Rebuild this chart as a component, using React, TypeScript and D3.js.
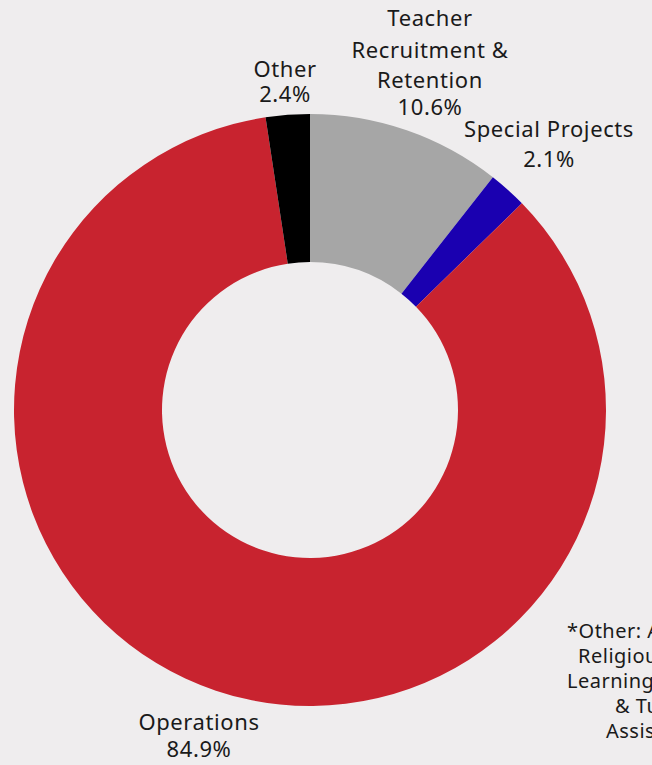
import React from 'react';
import * as d3 from 'd3';

const categories = ['Teacher Recruitment & Retention', 'Special Projects', 'Operations', 'Other'];
const shares = [10.6, 2.1, 84.9, 2.4];
const colors = ['#a6a6a6', '#1a00b0', '#c8232f', '#000000'];

// label lines per slice, and where they sit
const labelLines = [
  ['Teacher', 'Recruitment &', 'Retention', '10.6%'],
  ['Special Projects', '2.1%'],
  ['Operations', '84.9%'],
  ['Other', '2.4%'],
];
const labelAnchors = [
  { x: 430, ys: [26, 58, 88, 115] },
  { x: 549, ys: [137, 167] },
  { x: 199, ys: [730, 757] },
  { x: 285, ys: [77, 102] },
];

const noteLines = ['*Other: After School', 'Religious', 'Learning Loss', '& Tutoring', 'Assistance'];
const noteStarts = [567, 578, 567, 615, 606];
const noteYs = [638, 663, 688, 713, 738];

const W = 652;
const H = 765;
const cx = 310;
const cy = 410;
const outerR = 296;
const innerR = 148;

const App: React.FC = () => {
  const pie = d3.pie<number>().sort(null).startAngle(0).endAngle(2 * Math.PI);
  const arcs = pie(shares);
  const arc = d3.arc<d3.PieArcDatum<number>>().innerRadius(innerR).outerRadius(outerR);

  return (
    <div style={{ position: 'fixed', left: 0, top: 0, width: W, height: H, background: '#efedee' }}>
      <svg width={W} height={H} viewBox={`0 0 ${W} ${H}`} style={{ display: 'block' }}
        fontFamily="'Noto Sans', sans-serif">
        <rect width={W} height={H} fill="#efedee" />
        <g transform={`translate(${cx},${cy})`}>
          {arcs.map((a, i) => (
            <path key={categories[i]} d={arc(a) || ''} fill={colors[i]} />
          ))}
        </g>
        {labelLines.map((lines, i) => (
          <text key={categories[i]} textAnchor="middle" fontSize={22} letterSpacing={0.6} fill="#1a1a1a">
            {lines.map((t, j) => (
              <tspan key={j} x={labelAnchors[i].x} y={labelAnchors[i].ys[j]}>{t}</tspan>
            ))}
          </text>
        ))}
        <text fontSize={20} letterSpacing={0.5} fill="#1a1a1a">
          {noteLines.map((t, j) => (
            <tspan key={j} x={noteStarts[j]} y={noteYs[j]}>{t}</tspan>
          ))}
        </text>
      </svg>
    </div>
  );
};

export default App;
